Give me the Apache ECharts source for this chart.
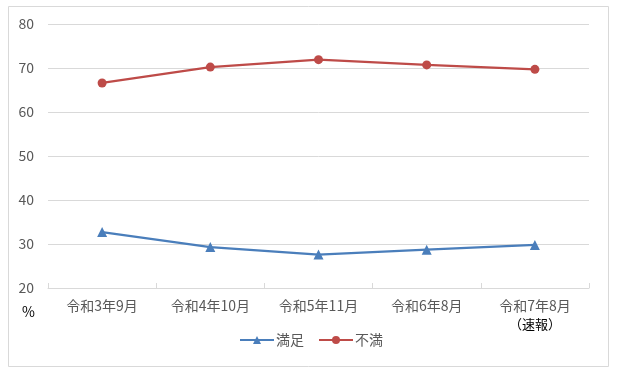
<!DOCTYPE html>
<html><head><meta charset="utf-8">
<script src="https://cdn.jsdelivr.net/npm/echarts@6/dist/echarts.min.js"></script>
<style>html,body{margin:0;padding:0;background:#fff}#c{width:622px;height:385px}</style>
</head><body><div id="c"></div>
<script>
var categories = ['令和3年9月','令和4年10月','令和5年11月','令和6年8月','令和7年8月'];
var satisfied = [32.7, 29.3, 27.6, 28.7, 29.8];
var dissatisfied = [66.6, 70.2, 71.9, 70.7, 69.7];
var seriesNames = ['満足','不満'];
var yTicks = {min:20, max:80, interval:10};

var font = '"Noto Sans CJK JP", sans-serif';
var chart = echarts.init(document.getElementById('c'));
chart.setOption({
  animation:false,
  backgroundColor:'#fff',
  graphic:[
    {type:'rect', shape:{x:8.5,y:6.5,width:600,height:360}, style:{fill:'none',stroke:'#d9d9d9',lineWidth:1}, silent:true},
    {type:'text', left:22, top:305, style:{text:'%', font:'14px '+font, fill:'#000'}}
  ],
  grid:{left:48, right:33, top:24, bottom:97, containLabel:false},
  legend:{
    bottom:33, left:'center', itemGap:14, itemWidth:34, itemHeight:10,
    textStyle:{fontFamily:font, fontSize:14, color:'#595959', padding:[0,0,0,-3]},
    data:[seriesNames[0], seriesNames[1]]
  },
  xAxis:{
    type:'category', data:categories, boundaryGap:true,
    axisLine:{lineStyle:{color:'#d9d9d9'}},
    axisTick:{show:true, inside:true, length:5, lineStyle:{color:'#d9d9d9'}},
    axisLabel:{fontFamily:font, fontSize:14, color:'#595959', margin:11, interval:0,
      formatter:function(v,i){ return i===4 ? v+'\n{s|（速報）}' : v; },
      rich:{s:{fontFamily:font, fontSize:13, color:'#000', lineHeight:20, padding:[2,0,0,0]}}
    }
  },
  yAxis:{
    type:'value', min:yTicks.min, max:yTicks.max, interval:yTicks.interval,
    axisLine:{show:false}, axisTick:{show:false},
    splitLine:{lineStyle:{color:'#d9d9d9'}},
    axisLabel:{fontFamily:font, fontSize:14, color:'#595959', margin:14}
  },
  series:[
    {name:seriesNames[0], type:'line', data:satisfied, symbol:'triangle', symbolSize:10,
     lineStyle:{color:'#4a7ebb', width:2.25}, itemStyle:{color:'#4a7ebb'}},
    {name:seriesNames[1], type:'line', data:dissatisfied, symbol:'circle', symbolSize:9,
     lineStyle:{color:'#be4b48', width:2.25}, itemStyle:{color:'#be4b48'}}
  ]
});
</script></body></html>
